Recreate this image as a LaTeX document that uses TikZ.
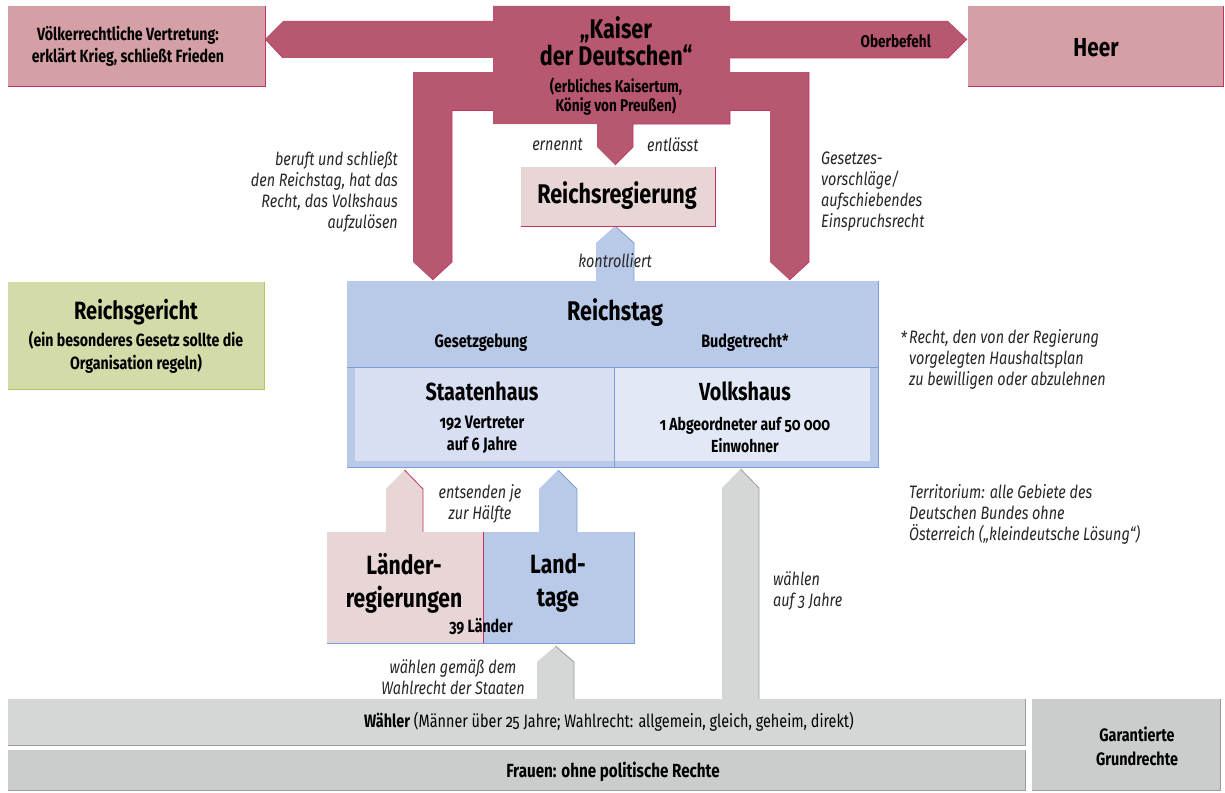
\documentclass[tikz,border=0pt]{standalone}
\usepackage{fontspec}
\setmainfont{Fira Sans}[FakeStretch=0.8, Numbers=OldStyle]
\usetikzlibrary{calc}
\definecolor{kred}{HTML}{B85770}
\definecolor{kredline}{HTML}{C2335F}
\definecolor{pinkbox}{HTML}{D4A0A6}
\definecolor{regbox}{HTML}{E8D5D5}
\definecolor{rblue}{HTML}{B9C9E8}
\definecolor{rblueline}{HTML}{7E9DD6}
\definecolor{staat}{HTML}{D8DFF2}
\definecolor{volk}{HTML}{E2E8F5}
\definecolor{ggreen}{HTML}{D3DCA8}
\definecolor{ggreenline}{HTML}{B5C46A}
\definecolor{wgrey}{HTML}{D5D6D6}
\definecolor{fgrey}{HTML}{CBCCCC}
\definecolor{greyline}{HTML}{9A9B9B}
\definecolor{annot}{HTML}{262626}
\newcommand\uparr[7]{%
  \fill[#1] (#3,#7) -- (#3,#6) -- ({(#3+#4)/2},#5) -- (#4,#6) -- (#4,#7) -- cycle;
  \draw[#2, line width=0.8pt] ({(#3+#4)/2},#5) -- (#4,#6) -- (#4,#7);
}
\tikzset{
  box/.style={inner sep=0pt, outer sep=0pt, align=center, text=black},
  bx/.style={font=\bfseries\fontsize{#1}{#1}\selectfont, inner sep=0pt, align=center, text=black},
  bxm/.style 2 args={font=\bfseries\fontsize{#1}{#2}\selectfont, inner sep=0pt, align=center, text=black},
  ann/.style={font=\itshape\fontsize{18}{21}\selectfont, inner sep=0pt, text=annot},
}
\begin{document}
\begin{tikzpicture}[x=1pt,y=-1pt]
\useasboundingbox (0,0) rectangle (1225,792);

% ---------- Kaiser block shape ----------
\fill[kred] (265,39) -- (283,21) -- (493,21) -- (493,6) -- (730,6) -- (730,21)
  -- (948,21) -- (967,39) -- (948,58) -- (730,58) -- (730,72) -- (809,72)
  -- (809,262) -- (789.5,280) -- (770,262) -- (770,110) -- (730,110) -- (730,124)
  -- (633,124) -- (633,147) -- (615,165) -- (597,147) -- (597,124) -- (493,124)
  -- (493,110) -- (452,110) -- (452,262) -- (432.5,280) -- (413,262) -- (413,72)
  -- (493,72) -- (493,58) -- (283,58) -- cycle;
\draw[kredline, line width=0.7pt] (283,58) -- (265,39);
\draw[kredline, line width=0.7pt] (967,39) -- (948,58) -- (730,58);
\draw[kredline, line width=0.7pt] (809,72) -- (809,262) -- (789.5,280);
\draw[kredline, line width=0.7pt] (452,110) -- (452,262) -- (432.5,280);
\draw[kredline, line width=0.7pt] (730,110) -- (730,124) -- (633,124) -- (633,147) -- (615,165);
\draw[kredline, line width=0.7pt] (770,110) -- (730,110);
\draw[kredline, line width=0.7pt] (493,110) -- (452,110);

\node[box, minimum width=237pt, minimum height=118pt] (kaiser) at (611.5,65) {};
\node[bxm={27}{27}] (kaisertitle) at (616,41.5) {„Kaiser\\der Deutschen“};
\node[bxm={17}{17}] (kaisersub) at (616,96.5) {(erbliches Kaisertum,\\König von Preußen)};

% ---------- top side boxes ----------
\node[box, fill=pinkbox, minimum width=257pt, minimum height=80pt] (voelk) at (136.5,46) {};
\draw[kredline, line width=0.8pt] (voelk.north east) -- (voelk.south east) -- (voelk.south west);
\node[bxm={17.7}{22}] (voelktext) at (128,46) {Völkerrechtliche Vertretung:\\erklärt Krieg, schließt Frieden};

\node[box, fill=pinkbox, minimum width=255pt, minimum height=80pt] (heer) at (1095.5,46) {};
\draw[kredline, line width=0.8pt] (heer.north east) -- (heer.south east) -- (heer.south west);
\node[bx=26] (heertext) at (1096,48) {Heer};

\node[bx=17, anchor=east] (oberbefehl) at (931,41) {Oberbefehl};

% ---------- Reichsregierung ----------
\node[ann, anchor=east] (ernennt) at (583,145) {ernennt};
\node[ann, anchor=west] (entlaesst) at (647,145) {entlässt};

\uparr{rblue}{rblueline}{596}{634}{226}{243}{281}
\node[box, fill=regbox, minimum width=194pt, minimum height=59pt] (reg) at (618,196.5) {};
\draw[kredline, line width=0.8pt] (reg.north east) -- (reg.south east) -- (reg.south west);
\node[bx=27] (regtext) at (617,196) {Reichsregierung};
\node[ann] (kontr) at (615,261) {kontrolliert};

\node[ann, align=right, anchor=east] (beruft) at (398,192)
  {beruft und schließt\\den Reichstag, hat das\\Recht, das Volkshaus\\aufzulösen};
\node[ann, align=left, anchor=west] (gesetz) at (821,192)
  {Gesetzes-\\vorschläge/\\aufschiebendes\\Einspruchsrecht};

% ---------- Reichsgericht ----------
\node[box, fill=ggreen, minimum width=256pt, minimum height=107pt] (gericht) at (136,335.5) {};
\draw[ggreenline, line width=0.9pt] (gericht.north east) -- (gericht.south east) -- (gericht.south west);
\node[bx=25] (gerichttitle) at (136,312) {Reichsgericht};
\node[bxm={17.7}{23}] (gerichtsub) at (136,352.5) {(ein besonderes Gesetz sollte die\\Organisation regeln)};

% ---------- lower arrows (behind boxes) ----------
\uparr{regbox}{kredline}{386}{423}{470}{489}{532}
\uparr{rblue}{rblueline}{539}{577}{470}{489}{532}
\uparr{wgrey}{greyline}{722}{759}{469}{488}{699}
\uparr{wgrey}{greyline}{537}{574}{646}{662}{699}

% ---------- Reichstag ----------
\node[box, fill=rblue, minimum width=531pt, minimum height=186pt] (reichstag) at (612.5,374) {};
\draw[rblueline, line width=0.8pt] (reichstag.north east) -- (reichstag.south east) -- (reichstag.south west);
\node[box, fill=staat, minimum width=259pt, minimum height=94pt] (staaten) at (484.5,414) {};
\node[box, fill=volk, minimum width=256pt, minimum height=94pt] (volks) at (742,414) {};
\draw[rblueline, line width=0.7pt] (347,367) -- (878,367);
\draw[rblueline, line width=0.7pt] (614,367) -- (614,467);
\node[bx=27] (rttitle) at (615,313) {Reichstag};
\node[bx=18] (gesetzg) at (481,343) {Gesetzgebung};
\node[bx=18] (budget) at (745,343) {Budgetrecht*};
\node[bx=24.7] (staatentitle) at (482,391) {Staatenhaus};
\node[bxm={18}{22}] (staatensub) at (482,435) {192 Vertreter\\auf 6 Jahre};
\node[bx=24.7] (volkstitle) at (745,391) {Volkshaus};
\node[bxm={17.5}{22}] (volkssub) at (745,435) {1 Abgeordneter auf 50 000\\Einwohner};

% ---------- footnotes ----------
\node[ann, anchor=east] (star) at (907,338) {*};
\node[ann, align=left, anchor=west] (fn) at (909,359)
  {Recht, den von der Regierung\\vorgelegten Haushaltsplan\\zu bewilligen oder abzulehnen};
\node[ann, align=left, anchor=west] (territ) at (909,514)
  {Territorium: alle Gebiete des\\Deutschen Bundes ohne\\Österreich („kleindeutsche Lösung“)};

% ---------- Länder ----------
\node[ann, align=center] (entsenden) at (480,503.5) {entsenden je\\zur Hälfte};
\node[box, fill=regbox, minimum width=156pt, minimum height=111pt] (laenderreg) at (405,587.5) {};
\node[box, fill=rblue, minimum width=151pt, minimum height=111pt] (landtage) at (558.5,587.5) {};
\draw[rblueline, line width=0.8pt] (landtage.north east) -- (landtage.south east) -- (laenderreg.south west);
\draw[kredline, line width=0.8pt] (laenderreg.north east) -- (laenderreg.south east);
\node[bxm={26.4}{33}] (lrtext) at (404,583) {Länder-\\regierungen};
\node[bxm={26.4}{33}] (lttext) at (558,583) {Land-\\tage};
\node[bx=17.7] (neununddreissig) at (481,627) {39 Länder};

\node[ann, align=center] (waehlengem) at (453,677) {wählen gemäß dem\\Wahlrecht der Staaten};
\node[ann, align=left, anchor=west] (waehlen3) at (773,591) {wählen\\auf 3 Jahre};

% ---------- bottom bars ----------
\node[box, fill=wgrey, minimum width=1017pt, minimum height=46pt] (waehler) at (516.5,722) {};
\draw[greyline, line width=0.8pt] (waehler.north east) -- (waehler.south east) -- (waehler.south west);
\node[inner sep=0pt, font=\fontsize{18}{18}\selectfont] (waehlertext) at (609,722)
  {\textbf{Wähler} (Männer über 25 Jahre; Wahlrecht: allgemein, gleich, geheim, direkt)};
\node[box, fill=fgrey, minimum width=1017pt, minimum height=40pt] (frauen) at (516.5,770) {};
\draw[greyline, line width=0.8pt] (frauen.north east) -- (frauen.south east) -- (frauen.south west);
\node[bx=19] (frauentext) at (613,772) {Frauen: ohne politische Rechte};
\node[box, fill=fgrey, minimum width=188pt, minimum height=91pt] (grund) at (1126,744.5) {};
\draw[greyline, line width=0.8pt] (grund.north east) -- (grund.south east) -- (grund.south west);
\node[bxm={18}{24}] (grundtext) at (1137,746) {Garantierte\\Grundrechte};
\end{tikzpicture}
\end{document}
